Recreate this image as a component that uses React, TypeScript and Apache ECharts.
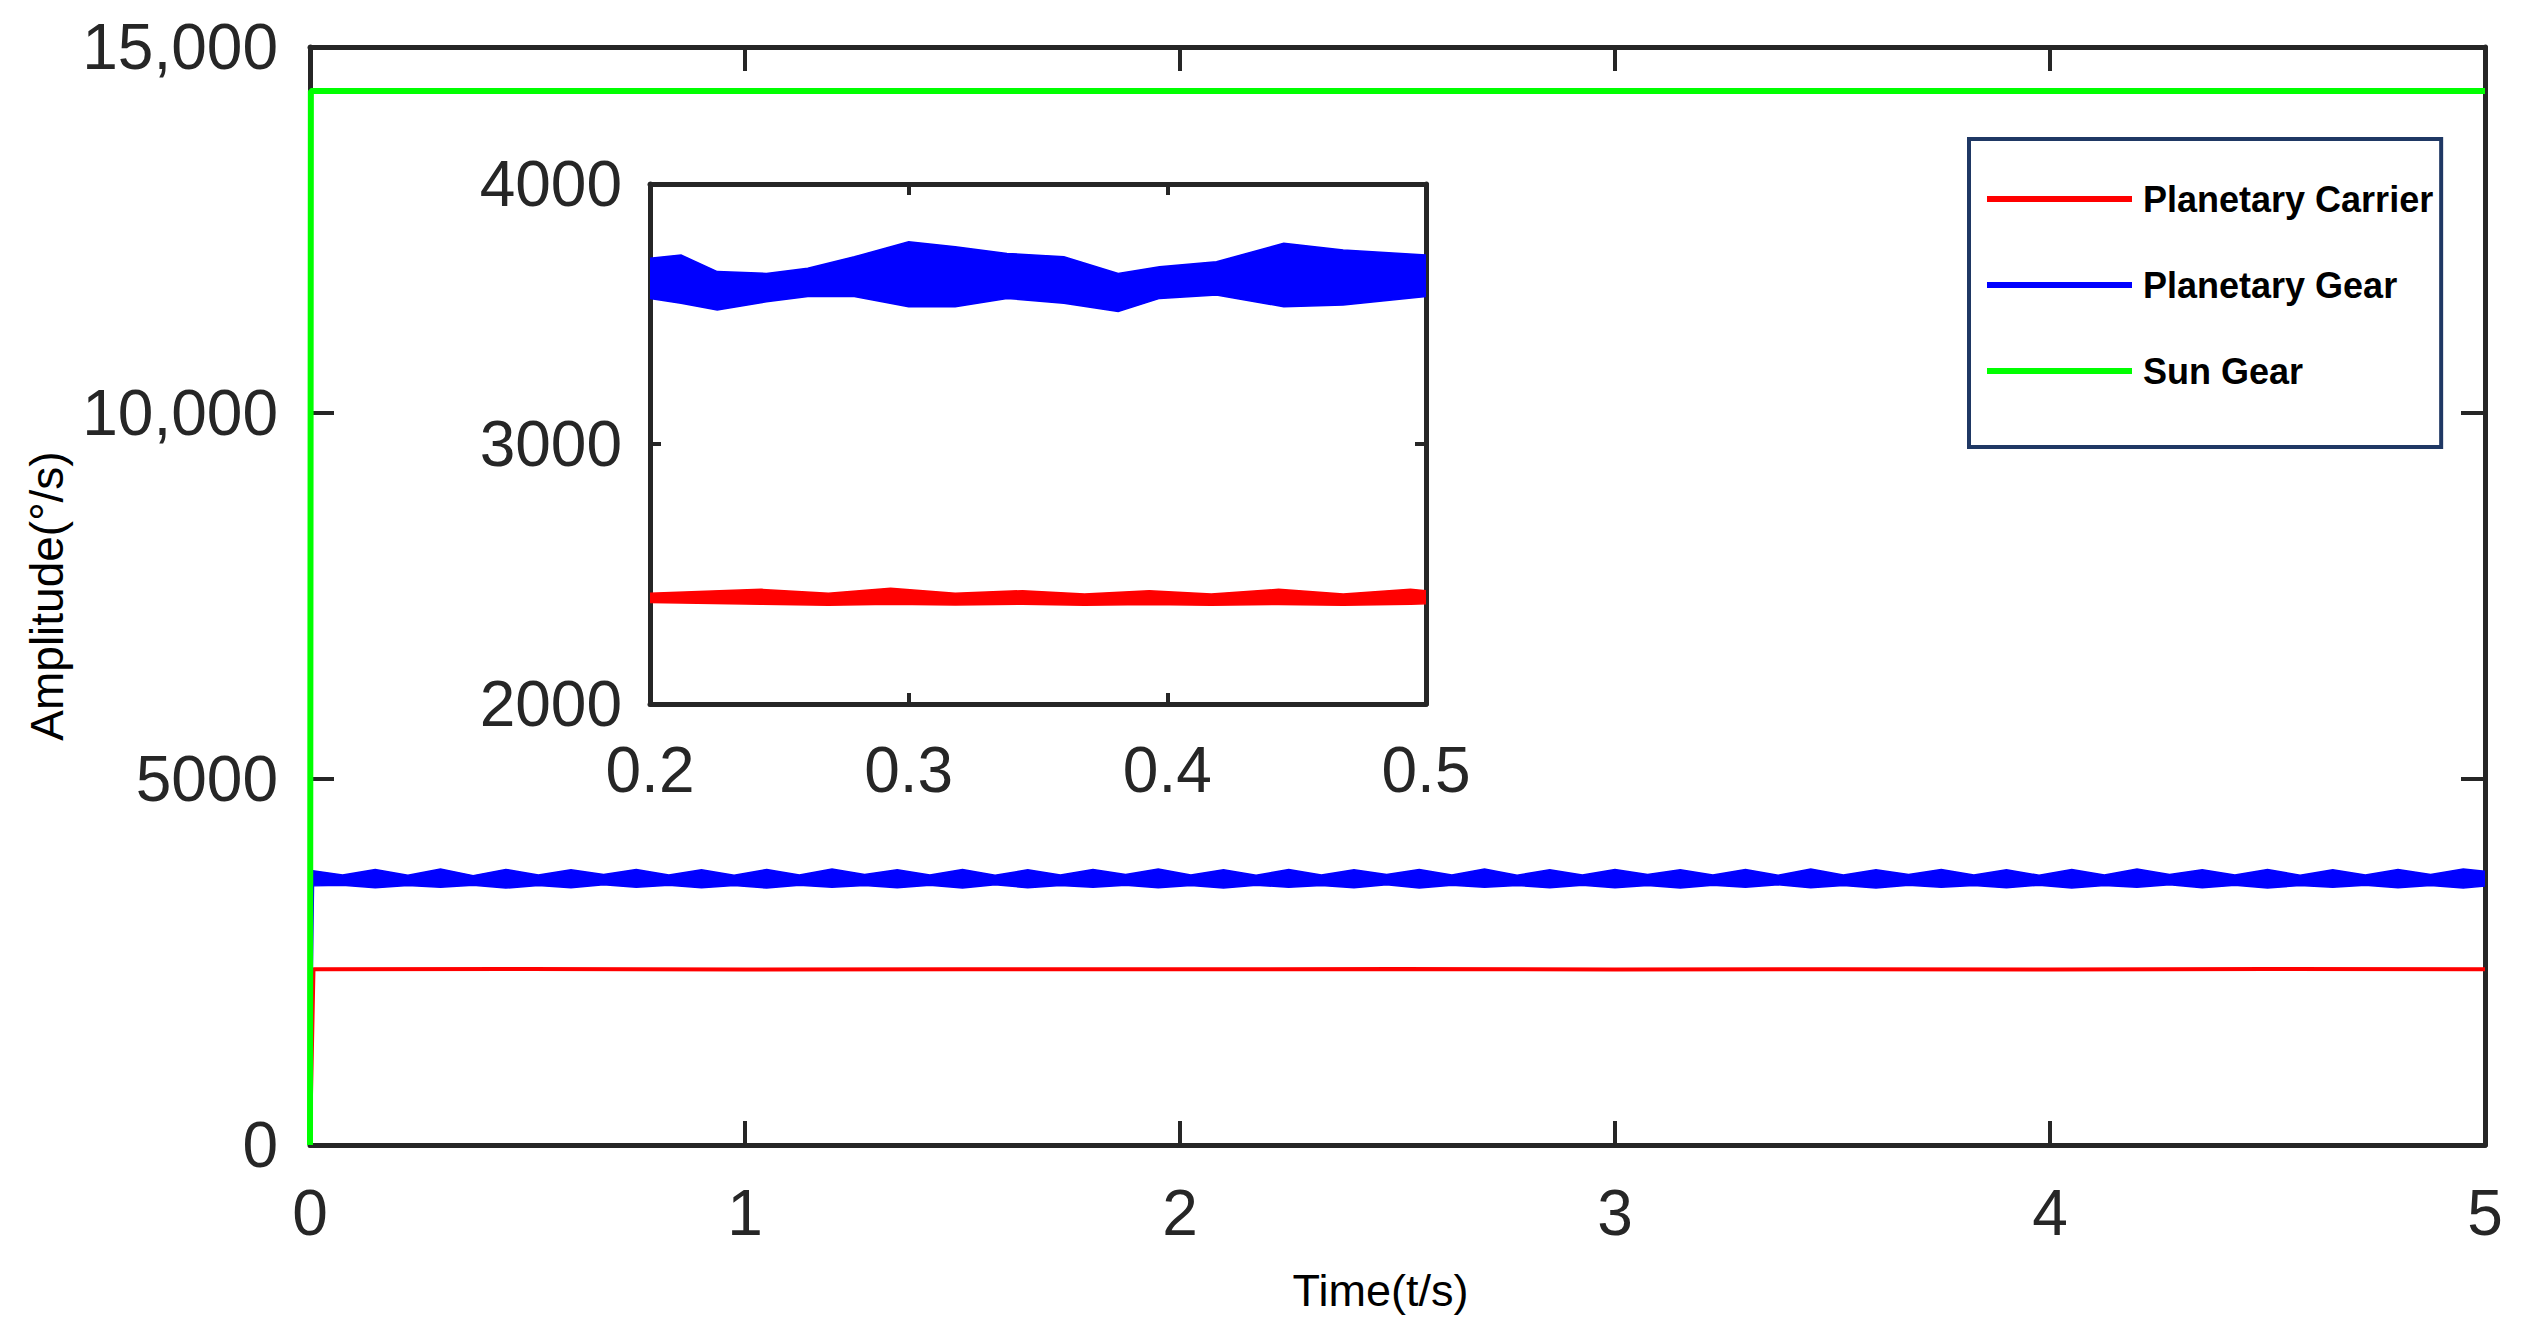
import React, { useEffect, useRef } from "react";
import * as echarts from "echarts";

// ---------- data ----------
const mainXTicks = [0, 1, 2, 3, 4, 5];
const mainYTickLabels: Record<number, string> = { 0: "0", 5000: "5000", 10000: "10,000", 15000: "15,000" };

const greenTime = [0, 0.002, 5];
const sunGear = [0, 14400, 14400];

const redTimeMain = [0, 0.008, 0.5, 1, 1.5, 2, 2.5, 3, 3.5, 4, 4.5, 5];
const carrierMain = [0, 2400, 2405, 2398, 2402, 2400, 2404, 2398, 2401, 2399, 2403, 2400];

const mainTime = [
  0, 0.008,
  0.075, 0.15, 0.225, 0.3, 0.375, 0.45, 0.525, 0.6, 0.675, 0.75,
  0.825, 0.9, 0.975, 1.05, 1.125, 1.2, 1.275, 1.35, 1.425, 1.5,
  1.575, 1.65, 1.725, 1.8, 1.875, 1.95, 2.025, 2.1, 2.175, 2.25,
  2.325, 2.4, 2.475, 2.55, 2.625, 2.7, 2.775, 2.85, 2.925, 3.0,
  3.075, 3.15, 3.225, 3.3, 3.375, 3.45, 3.525, 3.6, 3.675, 3.75,
  3.825, 3.9, 3.975, 4.05, 4.125, 4.2, 4.275, 4.35, 4.425, 4.5,
  4.575, 4.65, 4.725, 4.8, 4.875, 4.95,
  5.0,
];
const gearUpperMain = [
  0, 3745,
  3690, 3765, 3685, 3770, 3680, 3765, 3690, 3760, 3695, 3765,
  3690, 3760, 3685, 3765, 3690, 3770, 3695, 3760, 3690, 3765,
  3685, 3760, 3690, 3765, 3695, 3770, 3690, 3760, 3685, 3765,
  3690, 3760, 3695, 3765, 3690, 3770, 3685, 3760, 3690, 3765,
  3695, 3760, 3690, 3765, 3685, 3770, 3690, 3760, 3695, 3765,
  3690, 3760, 3685, 3765, 3690, 3770, 3695, 3760, 3690, 3765,
  3685, 3760, 3690, 3765, 3695, 3770,
  3740,
];
const gearLowerMain = [
  0, 3540,
  3550, 3515, 3545, 3520, 3550, 3510, 3545, 3515, 3555, 3520,
  3550, 3515, 3545, 3510, 3550, 3520, 3545, 3515, 3550, 3510,
  3555, 3515, 3545, 3520, 3550, 3515, 3545, 3510, 3550, 3520,
  3545, 3515, 3555, 3510, 3550, 3520, 3545, 3515, 3550, 3515,
  3545, 3510, 3550, 3520, 3555, 3515, 3545, 3510, 3550, 3520,
  3545, 3515, 3550, 3510, 3545, 3520, 3555, 3515, 3550, 3510,
  3545, 3520, 3550, 3515, 3545, 3510,
  3540,
];

// inset (0.2 - 0.5 s)
const insetXTicks = [0.2, 0.3, 0.4, 0.5];
const insetYTicks = [2000, 3000, 4000];
const insetGearTime = [0.2, 0.212, 0.226, 0.245, 0.261, 0.279, 0.3, 0.318, 0.338, 0.36, 0.381, 0.397, 0.419, 0.445, 0.468, 0.5];
const insetGearUpper = [3714, 3727, 3663, 3656, 3676, 3720, 3778, 3759, 3733, 3720, 3656, 3682, 3701, 3772, 3746, 3727];
const insetGearLower = [3560, 3541, 3515, 3547, 3567, 3567, 3528, 3528, 3560, 3541, 3510, 3560, 3573, 3528, 3535, 3567];

const insetCarrierTime = [0.2, 0.243, 0.269, 0.293, 0.318, 0.344, 0.368, 0.393, 0.417, 0.443, 0.468, 0.494, 0.5];
const insetCarrierUpper = [2426, 2441, 2426, 2445, 2426, 2436, 2423, 2436, 2423, 2441, 2423, 2441, 2436];
const insetCarrierLower = [2390, 2384, 2380, 2384, 2381, 2384, 2380, 2383, 2380, 2383, 2380, 2384, 2386];

const legendNames = ["Planetary Carrier", "Planetary Gear", "Sun Gear"];

// ---------- styling ----------
const AX = "#262626";
const RED = "#FF0000";
const BLUE = "#0000FF";
const GREEN = "#00FF00";
const FONT = "'Liberation Sans', Arial, sans-serif";

const pairs = (xs: number[], ys: number[]) => xs.map((x, i) => [x, ys[i]]);

function axisBox(gridIndex: number, pos: "bottom" | "top" | "left" | "right", min: number, max: number, interval: number, tickLen: number, showLabel: boolean, labelMargin: number, formatter?: (v: number) => string) {
  return {
    type: "value",
    gridIndex,
    position: pos,
    min,
    max,
    interval,
    splitLine: { show: false },
    axisLine: { show: true, onZero: false, lineStyle: { color: AX, width: 5 } },
    axisTick: { show: true, inside: true, length: tickLen, lineStyle: { color: AX, width: 4 } },
    axisLabel: {
      show: showLabel,
      margin: labelMargin,
      fontSize: 64,
      fontFamily: FONT,
      color: AX,
      formatter: formatter,
    },
  };
}

// envelope band (upper/lower traces) drawn as one polygon through the axes' scales
function bandSeries(name: string, xIdx: number, yIdx: number, ts: number[], up: number[], lo: number[], color: string, z: number) {
  return {
    type: "custom",
    name,
    xAxisIndex: xIdx,
    yAxisIndex: yIdx,
    z,
    clip: true,
    itemStyle: { color },
    data: ts.map((t, i) => [t, lo[i], up[i]]),
    encode: { x: 0, y: [1, 2] },
    renderItem: (params: any, api: any) => {
      if (params.dataIndex !== 0) return null;
      const top = ts.map((t, i) => api.coord([t, up[i]]));
      const bot = ts.map((t, i) => api.coord([t, lo[i]])).reverse();
      return {
        type: "polygon",
        shape: { points: top.concat(bot) },
        style: { fill: color, stroke: color, lineWidth: 1.5 },
      };
    },
  };
}

export default function App() {
  const ref = useRef<HTMLDivElement>(null);
  useEffect(() => {
    if (!ref.current) return;
    const chart = echarts.init(ref.current, null, { renderer: "svg" });
    const mainFmt = (v: number) => mainYTickLabels[v] ?? String(v);
    const insetXFmt = (v: number) => {
      const t = insetXTicks.find((k) => Math.abs(k - v) < 1e-6);
      return t !== undefined ? t.toFixed(1) : "";
    };
    const insetYFmt = (v: number) => {
      const t = insetYTicks.find((k) => Math.abs(k - v) < 1e-6);
      return t !== undefined ? String(t) : "";
    };
    const mainXFmt = (v: number) => {
      const t = mainXTicks.find((k) => Math.abs(k - v) < 1e-6);
      return t !== undefined ? String(t) : "";
    };

    const xMainBottom: any = axisBox(0, "bottom", 0, 5, 1, 24, true, 36, mainXFmt);
    xMainBottom.name = "Time(t/s)";
    xMainBottom.nameLocation = "middle";
    xMainBottom.nameGap = 123;
    xMainBottom.nameTextStyle = { fontSize: 45, fontFamily: FONT, color: "#000", padding: [0, 34, 0, 0] };

    const yMainLeft: any = axisBox(0, "left", 0, 15000, 5000, 24, true, 32, mainFmt);
    yMainLeft.name = "Amplitude(°/s)";
    yMainLeft.nameLocation = "middle";
    yMainLeft.nameGap = 240;
    yMainLeft.nameTextStyle = { fontSize: 46, fontFamily: FONT, color: "#000" };

    const option: any = {
      animation: false,
      backgroundColor: "#fff",
      grid: [
        { left: 310, top: 47, right: 39, bottom: 197, show: true, backgroundColor: "#fff", borderWidth: 0 },
        { left: 650, top: 184, width: 776, height: 520, show: true, backgroundColor: "#fff", borderWidth: 0 },
      ],
      xAxis: [
        xMainBottom,
        axisBox(0, "top", 0, 5, 1, 24, false, 8),
        axisBox(1, "bottom", 0.2, 0.5, 0.1, 11, true, 34, insetXFmt),
        axisBox(1, "top", 0.2, 0.5, 0.1, 11, false, 8),
      ],
      yAxis: [
        yMainLeft,
        axisBox(0, "right", 0, 15000, 5000, 24, false, 8),
        axisBox(1, "left", 2000, 4000, 1000, 11, true, 28, insetYFmt),
        axisBox(1, "right", 2000, 4000, 1000, 11, false, 8),
      ],
      legend: {
        orient: "vertical",
        left: 1969,
        top: 139,
        padding: [42, 8, 58, 18],
        itemGap: 50,
        itemWidth: 145,
        itemHeight: 6,
        borderColor: "#1F3864",
        borderWidth: 4,
        backgroundColor: "#fff",
        selectedMode: false,
        textStyle: { fontSize: 36, fontWeight: "bold", fontFamily: FONT, color: "#000", padding: [0, 0, 0, 6] },
        data: legendNames.map((n) => ({ name: n, icon: "rect", itemStyle: { color: n === "Planetary Carrier" ? RED : n === "Planetary Gear" ? BLUE : GREEN } })),
      },
      series: [
        {
          name: "Planetary Carrier",
          type: "line",
          xAxisIndex: 0,
          yAxisIndex: 0,
          data: pairs(redTimeMain, carrierMain),
          showSymbol: false,
          symbol: "none",
          color: RED,
          lineStyle: { color: RED, width: 4 },
          z: 2,
        },
        bandSeries("Planetary Gear", 0, 0, mainTime, gearUpperMain, gearLowerMain, BLUE, 3),
        {
          name: "Sun Gear",
          type: "line",
          xAxisIndex: 0,
          yAxisIndex: 0,
          data: pairs(greenTime, sunGear),
          showSymbol: false,
          symbol: "none",
          color: GREEN,
          lineStyle: { color: GREEN, width: 6 },
          z: 4,
        },
        bandSeries("insetCarrier", 2, 2, insetCarrierTime, insetCarrierUpper, insetCarrierLower, RED, 5),
        bandSeries("insetGear", 2, 2, insetGearTime, insetGearUpper, insetGearLower, BLUE, 5),
      ],
    };
    chart.setOption(option);
    return () => chart.dispose();
  }, []);
  return <div ref={ref} style={{ position: "fixed", left: 0, top: 0, width: "2524px", height: "1342px", background: "#fff" }} />;
}
